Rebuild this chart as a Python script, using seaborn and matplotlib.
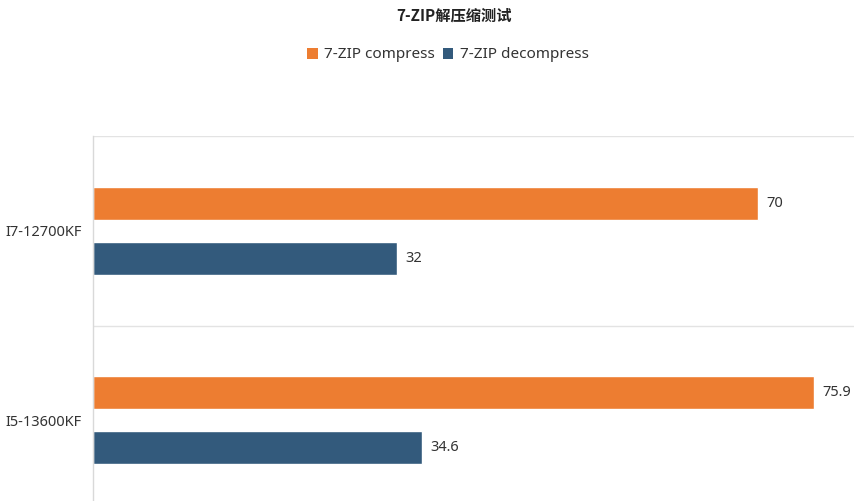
import matplotlib
matplotlib.use("Agg")
import matplotlib.pyplot as plt
import seaborn as sns
import pandas as pd
from matplotlib.patches import Patch

categories = ["I7-12700KF", "I5-13600KF"]
series_names = ["7-ZIP compress", "7-ZIP decompress"]
compress = [70, 75.9]
decompress = [32, 34.6]
title = "7-ZIP解压缩测试"
colors = ["#ED7D31", "#335A7C"]

sns.set_theme(style="white")
plt.rcParams['font.family'] = ['Noto Sans CJK SC', 'DejaVu Sans']

df = pd.DataFrame({
    "cpu": categories * 2,
    "series": [series_names[0]] * 2 + [series_names[1]] * 2,
    "value": compress + decompress,
})

fig = plt.figure(figsize=(8.58, 5.01), dpi=100)
W, H = 858, 501
l, r, t, b = 93, 854, 136, 515
ax = fig.add_axes([l / W, (H - b) / H, (r - l) / W, (b - t) / H])

sns.barplot(data=df, y="cpu", x="value", hue="series", order=categories,
            hue_order=series_names, palette=colors, orient="h",
            width=0.58, gap=0.4, ax=ax, legend=False, saturation=1)

ax.set_xlim(0, 80.1)
ax.set_ylim(1.5, -0.5)
ax.set_xlabel("")
ax.set_ylabel("")
ax.set_xticks([])
ax.tick_params(axis="y", length=0, pad=8, labelsize=10.5, labelcolor="#333333")
for lab in ax.get_yticklabels():
    lab.set_fontfamily(['Noto Sans', 'DejaVu Sans'])

for s in ["top", "right", "bottom"]:
    ax.spines[s].set_visible(False)
ax.spines["left"].set_color("#d9d9d9")
ax.spines["left"].set_linewidth(1)
for yv in [-0.5, 0.5]:
    ax.axhline(yv, color="#e3e3e3", linewidth=1, zorder=0)

for cont in ax.containers:
    ax.bar_label(cont, labels=[f"{v:g}" for v in cont.datavalues], padding=6,
                 fontsize=10.5, color="#333333", family=['Noto Sans', 'DejaVu Sans'])

fig.text(454 / W, 1 - 16 / H, title, ha="center", va="center", fontsize=11,
         fontweight="bold", color="#222222")

handles = [Patch(facecolor=c, edgecolor="none") for c in colors]
leg = fig.legend(handles, series_names, loc="center", bbox_to_anchor=(448 / W, 1 - 55 / H),
                 ncol=2, frameon=False, handlelength=0.7, handleheight=0.7,
                 handletextpad=0.4, columnspacing=0.5,
                 prop={'family': ['Noto Sans', 'DejaVu Sans'], 'size': 11})
for txt in leg.get_texts():
    txt.set_color("#333333")

fig.savefig("out.png", dpi=100)
